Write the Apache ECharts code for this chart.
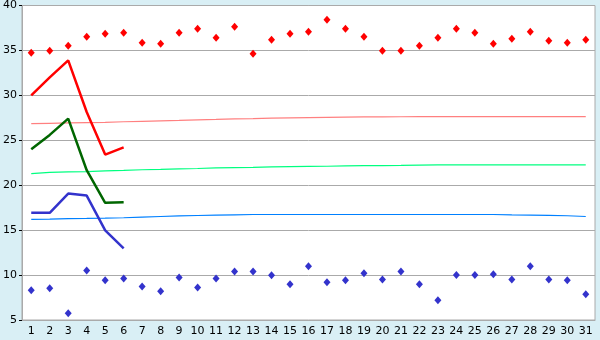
<!DOCTYPE html>
<html>
<head>
<meta charset="UTF-8">
<title>chart</title>
<script type="text/javascript" src="https://cdn.jsdelivr.net/npm/echarts@6.0.0/dist/echarts.min.js"></script>
<style>
html, body { margin: 0; padding: 0; background: #d9eff5; }
#main { width: 600px; height: 340px; }
</style>
</head>
<body>
<div id="main"></div>
<script type="text/javascript">
// x categories (days)
var days = ["1","2","3","4","5","6","7","8","9","10","11","12","13","14","15","16",
	"17","18","19","20","21","22","23","24","25","26","27","28","29","30","31"];
var yTicks = [5, 10, 15, 20, 25, 30, 35, 40];

// scattered dots
var redDots = [34.74, 34.96, 35.52, 36.52, 36.85, 36.96, 35.85, 35.74, 36.96, 37.41,
	36.41, 37.63, 34.63, 36.18, 36.85, 37.07, 38.41, 37.41, 36.52, 34.96,
	34.96, 35.52, 36.41, 37.41, 36.96, 35.74, 36.29, 37.07, 36.07, 35.85, 36.18];
var blueDots = [8.30, 8.52, 5.74, 10.52, 9.41, 9.63, 8.74, 8.19, 9.74, 8.63,
	9.63, 10.41, 10.41, 9.97, 8.97, 10.97, 9.19, 9.41, 10.19, 9.52,
	10.41, 8.97, 7.19, 10.0, 10.0, 10.08, 9.52, 10.97, 9.52, 9.41, 7.86];

// thick lines (first 6 days)
var redLine = [30.0, 32.0, 33.9, 28.15, 23.41, 24.22];
var greenLine = [24.0, 25.6, 27.41, 21.67, 18.04, 18.11];
var blueLine = [16.93, 16.93, 19.07, 18.85, 14.97, 12.96];

// thin trend lines
var redTrend = [26.86, 26.89, 26.93, 26.97, 27.0, 27.06, 27.11, 27.17, 27.22, 27.28,
	27.33, 27.39, 27.42, 27.47, 27.5, 27.53, 27.56, 27.58, 27.6, 27.61,
	27.62, 27.63, 27.63, 27.63, 27.63, 27.63, 27.63, 27.63, 27.63, 27.63, 27.63];
var greenTrend = [21.3, 21.42, 21.48, 21.52, 21.6, 21.65, 21.72, 21.76, 21.82, 21.86,
	21.92, 21.95, 21.98, 22.03, 22.06, 22.09, 22.11, 22.15, 22.17, 22.18,
	22.2, 22.24, 22.26, 22.26, 22.26, 22.26, 22.26, 22.26, 22.26, 22.26, 22.26];
var blueTrend = [16.19, 16.22, 16.28, 16.3, 16.33, 16.38, 16.45, 16.52, 16.58, 16.63,
	16.67, 16.71, 16.74, 16.74, 16.74, 16.74, 16.74, 16.74, 16.74, 16.74,
	16.74, 16.74, 16.74, 16.74, 16.74, 16.74, 16.7, 16.67, 16.64, 16.6, 16.52];

var myChart = echarts.init(document.getElementById("main"));

function thin(data, color) {
	return { type: "line", data: data, showSymbol: false, silent: true,
		lineStyle: { color: color, width: 1.2 } };
}
function thick(data, color) {
	return { type: "line", data: data, showSymbol: false, silent: true,
		lineStyle: { color: color, width: 2.5 } };
}
function dots(data, color) {
	return { type: "scatter", data: data, symbol: "diamond", symbolSize: [7, 8],
		silent: true, itemStyle: { color: color, opacity: 1 } };
}

var option = {
	backgroundColor: "#d9eff5",
	animation: false,
	grid: {
		left: 20, right: 5, top: 5, bottom: 20,
		show: true, backgroundColor: "#ffffff", borderColor: "#aaaaaa", borderWidth: 1
	},
	xAxis: {
		type: "category",
		data: days,
		boundaryGap: true,
		axisLine: { lineStyle: { color: "#aaaaaa" } },
		axisTick: { alignWithLabel: true, length: 5, lineStyle: { color: "#000000" } },
		axisLabel: { color: "#000000", fontFamily: "DejaVu Sans", fontSize: 11, margin: 6, interval: 0 },
		splitLine: { show: false }
	},
	yAxis: {
		type: "value",
		min: yTicks[0],
		max: yTicks[yTicks.length - 1],
		interval: 5,
		axisLine: { show: true, lineStyle: { color: "#aaaaaa" } },
		axisTick: { show: true, length: 3, lineStyle: { color: "#000000" } },
		axisLabel: { color: "#000000", fontFamily: "DejaVu Sans", fontSize: 11, margin: 5 },
		splitLine: { lineStyle: { color: "#aaaaaa", width: 1 } }
	},
	series: [
		thin(redTrend, "#ff8080"),
		thin(greenTrend, "#00ff80"),
		thin(blueTrend, "#0080ff"),
		thick(redLine, "#ff0000"),
		thick(greenLine, "#006600"),
		thick(blueLine, "#3333cc"),
		dots(redDots, "#ff0000"),
		dots(blueDots, "#3333cc")
	]
};

myChart.setOption(option, true);
</script>
</body>
</html>
